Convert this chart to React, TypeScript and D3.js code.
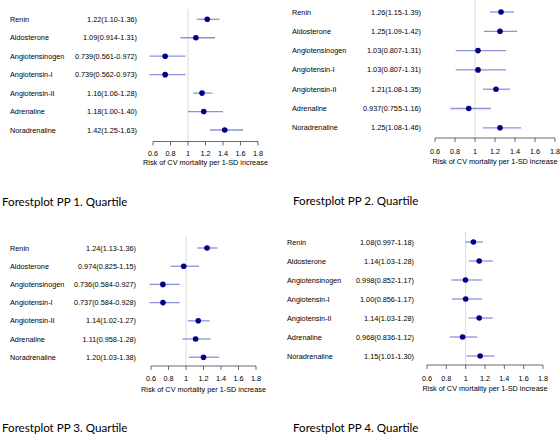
import React from "react";
import * as d3 from "d3";

const markers = ["Renin", "Aldosterone", "Angiotensinogen", "Angiotensin-I", "Angiotensin-II", "Adrenaline", "Noradrenaline"];
const xTicks = [0.6, 0.8, 1, 1.2, 1.4, 1.6, 1.8];
const titles = ["Forestplot PP 1. Quartile", "Forestplot PP 2. Quartile", "Forestplot PP 3. Quartile", "Forestplot PP 4. Quartile"];
const axisTitle = "Risk of CV mortality per 1-SD increase";

const q1Mean = [1.22, 1.09, 0.739, 0.739, 1.16, 1.18, 1.42];
const q1Low = [1.10, 0.914, 0.561, 0.562, 1.06, 1.00, 1.25];
const q1High = [1.36, 1.31, 0.972, 0.973, 1.28, 1.40, 1.63];

const q2Mean = [1.26, 1.25, 1.03, 1.03, 1.21, 0.937, 1.25];
const q2Low = [1.15, 1.09, 0.807, 0.807, 1.08, 0.755, 1.08];
const q2High = [1.39, 1.42, 1.31, 1.31, 1.35, 1.16, 1.46];

const q3Mean = [1.24, 0.974, 0.736, 0.737, 1.14, 1.11, 1.20];
const q3Low = [1.13, 0.825, 0.584, 0.584, 1.02, 0.958, 1.03];
const q3High = [1.36, 1.15, 0.927, 0.928, 1.27, 1.28, 1.38];

const q4Mean = [1.08, 1.14, 0.998, 1.00, 1.14, 0.968, 1.15];
const q4Low = [0.997, 1.03, 0.852, 0.856, 1.03, 0.836, 1.01];
const q4High = [1.18, 1.28, 1.17, 1.17, 1.28, 1.12, 1.30];

const series = [
  { mean: q1Mean, low: q1Low, high: q1High },
  { mean: q2Mean, low: q2Low, high: q2High },
  { mean: q3Mean, low: q3Low, high: q3High },
  { mean: q4Mean, low: q4Low, high: q4High },
];

// layout per panel
const layouts = [
  { labelX: 10, rowTop: 19.3, rowStep: 18.45, estRight: 137, axisY: 141.5, x0: 153, x1: 258, vTop: 9, tickY: 153, atY: 162.5, titleX: 2, titleY: 202 },
  { labelX: 292, rowTop: 12, rowStep: 19.3, estRight: 421, axisY: 138, x0: 435, x1: 555, vTop: 0, tickY: 151, atY: 161, titleX: 293, titleY: 201 },
  { labelX: 10, rowTop: 248, rowStep: 18.2, estRight: 136, axisY: 366, x0: 151, x1: 256, vTop: 237, tickY: 378, atY: 389, titleX: 2, titleY: 428 },
  { labelX: 287, rowTop: 242, rowStep: 19, estRight: 414, axisY: 365, x0: 427, x1: 543, vTop: 232, tickY: 378, atY: 388.5, titleX: 293, titleY: 428 },
];

const fmt = d3.format(".3r");
const sans = "'Liberation Sans', Arial, sans-serif";

function Panel({ idx }: { idx: number }) {
  const L = layouts[idx];
  const s = series[idx];
  const x = d3.scaleLinear().domain([0.6, 1.8]).range([L.x0, L.x1]);
  const y = d3.scaleLinear().domain([0, markers.length - 1]).range([L.rowTop, L.rowTop + L.rowStep * (markers.length - 1)]);
  return (
    <g>
      <line x1={x(1)} x2={x(1)} y1={L.vTop} y2={L.axisY} stroke="#d9d9d9" strokeWidth={1} />
      {markers.map((m, i) => (
        <g key={m}>
          <text x={L.labelX} y={y(i)} dy="0.35em" fontSize={7.3} fontFamily={sans} fill="#000">{m}</text>
          <text x={L.estRight} y={y(i)} dy="0.35em" fontSize={7.3} fontFamily={sans} fill="#000" textAnchor="end">
            {`${fmt(s.mean[i])}(${fmt(s.low[i])}-${fmt(s.high[i])})`}
          </text>
          <line x1={x(s.low[i])} x2={x(s.high[i])} y1={y(i)} y2={y(i)} stroke="#8f8fde" strokeWidth={1.3} />
          <circle cx={x(s.mean[i])} cy={y(i)} r={2.8} fill="#00008b" />
        </g>
      ))}
      <line x1={L.x0} x2={L.x1} y1={L.axisY} y2={L.axisY} stroke="#444" strokeWidth={0.8} />
      {xTicks.map((t) => (
        <g key={t}>
          <line x1={x(t)} x2={x(t)} y1={L.axisY} y2={L.axisY + 4} stroke="#444" strokeWidth={0.8} />
          <text x={x(t)} y={L.tickY} dy="0.35em" textAnchor="middle" fontSize={7.3} fontFamily={sans} fill="#000">{t}</text>
        </g>
      ))}
      <text x={(L.x0 + L.x1) / 2} y={L.atY} dy="0.35em" textAnchor="middle" fontSize={7.3} fontFamily={sans} fill="#000">{axisTitle}</text>
      <text x={L.titleX} y={L.titleY} dy="0.35em" fontSize={11.6} fontFamily="Lato, 'Open Sans', sans-serif" fill="#000">{titles[idx]}</text>
    </g>
  );
}

export default function App() {
  return (
    <svg width={560} height={437} style={{ position: "absolute", left: 0, top: 0, background: "#fff" }}>
      <rect width={560} height={437} fill="#fff" />
      {layouts.map((_, i) => (
        <Panel key={i} idx={i} />
      ))}
    </svg>
  );
}
